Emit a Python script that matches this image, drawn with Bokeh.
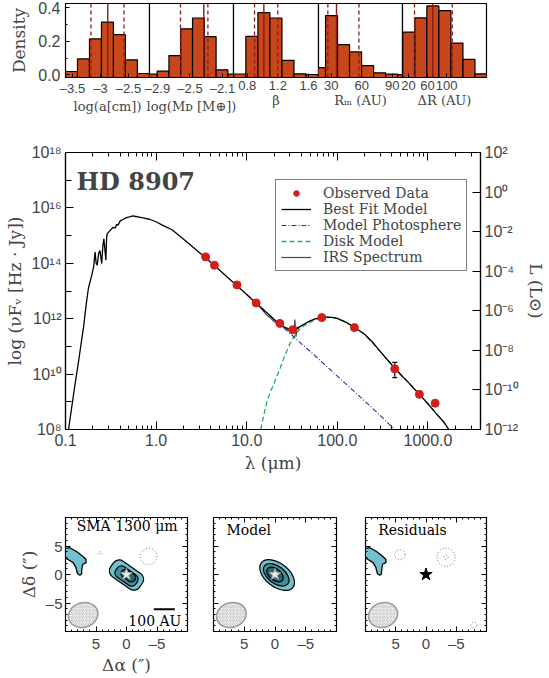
import math
import numpy as np
from bokeh.plotting import figure
from bokeh.models import (Range1d, LogAxis, LinearAxis, FixedTicker, CustomJSTickFormatter,
                          Span, Legend, LegendItem, Whisker, TeeHead, ColumnDataSource,
                          Label, LogScale)
from bokeh.layouts import column, row
from bokeh.embed import file_html
from bokeh.resources import INLINE
from bokeh.core.properties import value

# ---------------- posterior histograms ----------------
a_edges = [-3.625, -3.411, -3.197, -2.983, -2.769, -2.555, -2.341, -2.127]
a_dens = [0.02, 0.095, 0.215, 0.315, 0.24, 0.09, 0.008]
a_lines = [-3.17, -2.87, -2.58]
a_ticks = [-3.5, -3.0, -2.5]
a_xlim = [-3.625, -2.125]

md_edges = [-3.049, -2.904, -2.759, -2.614, -2.469, -2.324, -2.179, -2.034, -1.889]
md_dens = [0.004, 0.022, 0.115, 0.275, 0.34, 0.228, 0.03, 0.004]
md_lines = [-2.617, -2.33, -2.28]
md_ticks = [-2.9, -2.5, -2.1]
md_xlim = [-2.998, -1.965]

b_edges = [0.625, 0.782, 0.939, 1.096, 1.253, 1.41, 1.567, 1.724]
b_dens = [0.005, 0.23, 0.372, 0.34, 0.087, 0.006, 0.002]
b_lines = [0.895, 1.017, 1.199]
b_ticks = [0.8, 1.2, 1.6]
b_xlim = [0.621, 1.73]

rin_edges = [12.6, 24.4, 36.2, 48.0, 59.8, 71.6, 83.4, 95.2, 107.0]
rin_dens = [0.043, 0.354, 0.181, 0.137, 0.055, 0.012, 0.004, 0.001]
rin_lines = [26.7, 35.2, 57.2]
rin_ticks = [30, 60, 90]
rin_xlim = [17.5, 100.0]

dr_edges = [8.0, 33.3, 58.6, 83.9, 109.2, 134.5, 159.8, 185.1]
dr_dens = [0.256, 0.341, 0.412, 0.384, 0.19, 0.092, 0.006]
dr_lines = [32.6, 71.0, 112.0]
dr_ticks = [20, 60, 100]
dr_xlim = [7.4, 184.0]

hist_labels = ["log(a[cm])", "log(Mᴅ [M⊕])", "β", "Rᵢₙ (AU)", "ΔR (AU)"]

# ---------------- SED (wavelength in micron, log10 of nuFnu in Hz Jy) ----------------
model_wav = [0.108, 0.125, 0.14, 0.152, 0.158, 0.169, 0.179, 0.195, 0.205, 0.212, 0.218, 0.224,
             0.232, 0.24, 0.246, 0.251, 0.258, 0.265, 0.272, 0.279, 0.284, 0.288, 0.31, 0.335,
             0.355, 0.365, 0.38, 0.402, 0.43, 0.47, 0.51, 0.553, 0.6, 0.65, 0.74, 0.84, 1.0,
             1.17, 1.5, 2.09, 2.7, 3.52, 4.4, 6.0, 7.8, 10.0, 12.7, 17.0, 20.0, 23.2, 26.0, 29.0,
             32.0, 36.0, 40.0, 45.0, 50.0, 58.0, 67.0, 76.0, 88.0, 100.0, 125.0, 154.0, 200.0,
             250.0, 300.0, 360.0, 430.0, 510.0, 600.0, 700.0, 804.0, 1000.0, 1200.0, 1500.0, 1700.0]
model_log = [8.0, 9.45, 10.5, 11.32, 11.68, 12.5, 13.1, 13.57, 13.9, 14.41, 14.0, 13.93,
             14.35, 14.46, 14.2, 13.99, 14.6, 14.88, 14.5, 14.11, 14.9, 15.06, 15.18, 15.3,
             15.27, 15.4, 15.38, 15.53, 15.58, 15.65, 15.68, 15.71, 15.69, 15.67, 15.63, 15.59, 15.5,
             15.38, 15.21, 14.82, 14.52, 14.2, 13.92, 13.52, 13.19, 12.87, 12.56, 12.19, 11.98, 11.8, 11.7, 11.63,
             11.61, 11.65, 11.74, 11.84, 11.92, 12.0, 12.04, 12.06, 12.05, 12.01, 11.87, 11.69, 11.44,
             11.12, 10.8, 10.5, 10.22, 9.95, 9.72, 9.48, 9.27, 8.93, 8.62, 8.26, 8.0]

phot_wav = [10.0, 15.0, 20.0, 27.8, 40.0, 54.3, 75.0, 100.0, 150.0, 200.0, 280.0, 371.0, 430.0]
phot_log = [12.87, 12.35, 11.97, 11.57, 11.1, 10.72, 10.3, 9.93, 9.4, 9.03, 8.59, 8.2, 8.0]

disk_wav = [14.3, 15.5, 16.9, 18.5, 20.0, 21.8, 23.6, 25.5, 27.8, 30.0, 32.8, 35.5, 38.6, 42.0,
            45.8, 52.0, 60.0, 70.0, 76.0, 88.0, 100.0, 125.0, 154.0, 200.0, 300.0, 430.0, 600.0,
            804.0, 1000.0, 1200.0, 1500.0, 1700.0]
disk_log = [8.0, 8.55, 9.07, 9.4, 9.66, 9.97, 10.25, 10.55, 10.85, 11.1, 11.32, 11.48, 11.62, 11.72,
            11.79, 11.9, 11.98, 12.03, 12.05, 12.04, 12.0, 11.87, 11.69, 11.44, 10.8, 10.22, 9.72,
            9.27, 8.93, 8.62, 8.26, 8.0]

irs_wav = [14.0, 15.5, 17.0, 18.3, 20.0, 21.5, 23.0, 24.5, 26.0, 27.5, 29.0, 30.0, 31.0, 32.0,
           33.0, 34.0, 35.0, 36.0, 37.0, 38.0]
irs_log = [12.42, 12.25, 12.1, 12.03, 11.9, 11.84, 11.78, 11.72, 11.68, 11.62, 11.56, 11.62, 11.5,
           11.66, 11.45, 11.97, 11.35, 11.72, 11.62, 11.7]

obs_wav = [3.52, 4.4, 7.8, 12.7, 23.2, 32.2, 67.4, 154.0, 430.0, 804.0, 1200.0]
obs_log = [14.23, 13.93, 13.22, 12.57, 11.83, 11.60, 12.04, 11.68, 10.19, 9.27, 8.95]
err_wav = [430.0, 804.0, 1200.0]
err_lo_log = [9.87, 9.18, 8.84]
err_hi_log = [10.42, 9.35, 9.03]

# ---------------- SMA maps (arcsec) ----------------
blob_x = [10.6, 10.0, 9.3, 8.18, 7.18, 6.63, 6.63, 7.18, 7.35, 7.35, 7.63, 8.02, 8.3, 8.75, 9.58, 10.0, 10.6]
blob_y = [4.6, 4.58, 4.7, 4.03, 3.2, 2.63, 2.08, 1.8, 0.7, 0.13, -0.13, 0.13, 1.25, 2.08, 2.63, 2.92, 2.9]

sma_cx = [0.0, 0.0, -0.3]
sma_cy = [-0.1, -0.28, -0.2]
sma_w = [5.8, 4.0, 2.6]
sma_h = [3.3, 2.2, 1.5]
sma_ang = [-0.61, -0.61, -0.61]
sma_rad = [7, 5, 5]

mod_cx = [-0.35, -0.2, 0.0]
mod_cy = [-0.1, -0.05, 0.0]
mod_w = [6.5, 4.8, 3.1]
mod_h = [4.1, 3.0, 2.0]
mod_ang = [-0.66, -0.66, -0.66]

level_colors = ["#72C1CD", "#428E99", "#2A616B"]

sma_neg_x = [-3.65, 4.4]
sma_neg_y = [3.2, 3.75]
sma_neg_r = [1.35, 0.25]
res_neg_x = [4.3, -3.3, -3.3, -7.9]
res_neg_y = [3.47, 3.03, 3.03, -8.9]
res_neg_r = [0.85, 1.5, 0.35, 0.5]

beam_x, beam_y, beam_w, beam_h, beam_ang = 7.1, -7.1, 4.9, 4.3, 0.3
bar_x0, bar_x1, bar_y = -4.48, -7.92, -6.08

SERIF = "DejaVu Serif"
SANS = "Liberation Sans"
BAR = "#C8461B"
LINE_RED = "#8B1A1A"

minus_fmt = CustomJSTickFormatter(code="""
const s = Math.abs(tick).toString();
return (tick < 0 ? "\u2013" : "") + s;
""")
blank_fmt = CustomJSTickFormatter(code="return '';")

# ---------------- histogram row ----------------
hist_data = [(a_edges, a_dens, a_lines, a_ticks, a_xlim),
             (md_edges, md_dens, md_lines, md_ticks, md_xlim),
             (b_edges, b_dens, b_lines, b_ticks, b_xlim),
             (rin_edges, rin_dens, rin_lines, rin_ticks, rin_xlim),
             (dr_edges, dr_dens, dr_lines, dr_ticks, dr_xlim)]
frame_w = [84, 84, 85, 84, 84]
y0, y1 = -0.016, 0.4267
hists = []
for i, (edges, dens, lines, ticks, xl) in enumerate(hist_data):
    bl = 65 if i == 0 else 15
    br = 15
    p = figure(width=bl + frame_w[i] + br, height=116, x_range=Range1d(*xl), y_range=Range1d(y0, y1),
               output_backend="svg", toolbar_location=None, min_border_left=bl, min_border_right=br,
               min_border_top=3, min_border_bottom=30, y_axis_location="left" if i == 0 else None)
    p.grid.visible = False
    p.outline_line_color = "black"
    p.outline_line_width = 1.2
    p.background_fill_color = "white"
    p.border_fill_alpha = 0
    if i > 0:
        p.margin = (0, 0, 0, -30)
    p.quad(left=edges[:-1], right=edges[1:], top=dens, bottom=y0, fill_color=BAR,
           line_color="black", line_width=1.2)
    for j, loc in enumerate(lines):
        p.add_layout(Span(location=loc, dimension="height", line_color=LINE_RED,
                          line_width=1.4 if j == 1 else 1.3,
                          line_dash="solid" if j == 1 else "4 3"))
    ax = p.xaxis[0]
    ax.ticker = FixedTicker(ticks=ticks)
    ax.formatter = minus_fmt
    ax.major_tick_in = 4
    ax.major_tick_out = 0
    ax.minor_tick_out = 0
    ax.major_label_standoff = 3
    ax.major_label_text_font = SANS
    ax.major_label_text_font_size = "13px"
    ax.axis_label = hist_labels[i]
    ax.axis_label_text_font = SERIF
    ax.axis_label_text_font_size = "13px"
    ax.axis_label_text_font_style = "normal"
    ax.axis_label_standoff = 0
    if i == 0:
        ya = p.yaxis[0]
        ya.ticker = FixedTicker(ticks=[0.0, 0.2, 0.4], minor_ticks=[0.1, 0.3])
        ya.formatter = CustomJSTickFormatter(code="return tick.toFixed(1);")
        ya.major_tick_in = 4
        ya.major_tick_out = 0
        ya.minor_tick_in = 2
        ya.minor_tick_out = 0
        ya.major_label_text_font = SANS
        ya.major_label_text_font_size = "16px"
        ya.major_label_standoff = 5
        ya.axis_label = "Density"
        ya.axis_label_text_font = SERIF
        ya.axis_label_text_font_size = "17px"
        ya.axis_label_text_font_style = "normal"
        ya.axis_label_standoff = 6
    hists.append(p)

# ---------------- SED ----------------
sed = figure(width=548, height=359, x_axis_type="log", y_axis_type="log",
             x_range=Range1d(0.1, 3800), y_range=Range1d(1e8, 1e18),
             output_backend="svg", toolbar_location=None,
             min_border_left=65, min_border_right=62, min_border_top=36, min_border_bottom=42)
sed.grid.visible = False
sed.outline_line_color = "black"
sed.outline_line_width = 1.2
sed.border_fill_alpha = 0
sed.extra_y_ranges = {"lum": Range1d(1e-12, 1e2)}
sed.extra_y_scales = {"lum": LogScale()}

tf = lambda a: [10 ** v for v in a]
r_disk = sed.line(disk_wav, tf(disk_log), line_color="#1EAF55", line_width=1.3, line_dash="5 3")
r_phot = sed.line(phot_wav, tf(phot_log), line_color="#2B2BA0", line_width=1.1, line_dash="5 2 1 2")
r_irs = sed.line(irs_wav, tf(irs_log), line_color="#4a4a4a", line_width=1.2)
r_model = sed.line(model_wav, tf(model_log), line_color="black", line_width=1.3)
err_src = ColumnDataSource(dict(x=err_wav, lo=tf(err_lo_log), hi=tf(err_hi_log)))
sed.add_layout(Whisker(source=err_src, base="x", lower="lo", upper="hi", dimension="height",
                       line_color="black", line_width=1.2,
                       lower_head=TeeHead(size=5, line_color="black", line_width=1.2),
                       upper_head=TeeHead(size=5, line_color="black", line_width=1.2)))
r_obs = sed.scatter(obs_wav, tf(obs_log), size=8, fill_color="#D21E1E", line_color="#D21E1E")

xmin = [k * 10.0 ** e for e in range(-1, 4) for k in range(2, 10)]
xax = sed.below[0]
xax.ticker = FixedTicker(ticks=[0.1, 1, 10, 100, 1000], minor_ticks=xmin)
xax.formatter = CustomJSTickFormatter(code="return tick.toFixed(1);")
xax.axis_label = "λ (μm)"
top = LogAxis(ticker=FixedTicker(ticks=[0.1, 1, 10, 100, 1000], minor_ticks=xmin),
              formatter=blank_fmt)
top.major_label_standoff = 0
sed.add_layout(top, "above")

sup_fmt = CustomJSTickFormatter(code="""
const e = Math.round(Math.log10(tick));
const m = {"-":"\u207b","0":"\u2070","1":"\u00b9","2":"\u00b2","3":"\u00b3","4":"\u2074",
           "5":"\u2075","6":"\u2076","7":"\u2077","8":"\u2078","9":"\u2079"};
let s = "";
for (const c of String(e)) s += m[c];
return "10" + s;
""")
yax = sed.left[0]
yax.ticker = FixedTicker(ticks=[10.0 ** e for e in range(8, 19, 2)],
                         minor_ticks=[10.0 ** e for e in range(9, 18, 2)])
yax.formatter = sup_fmt
yax.axis_label = "log (νFᵥ [Hz · Jy])"
rax = LogAxis(y_range_name="lum", ticker=FixedTicker(ticks=[10.0 ** e for e in range(-12, 3, 2)]),
              formatter=sup_fmt, axis_label="L (L⊙)")
sed.add_layout(rax, "right")
for ax in [xax, top, yax, rax]:
    ax.major_tick_in = 8
    ax.major_tick_out = 0
    ax.minor_tick_in = 4
    ax.minor_tick_out = 0
    ax.axis_line_width = 1.2
    ax.axis_label_text_font = SERIF
    ax.axis_label_text_font_style = "normal"
    ax.axis_label_text_font_size = "17px"
for ax in [xax, yax, rax]:
    ax.major_label_text_font = SANS
    ax.major_label_text_font_size = "16px"
    ax.major_label_standoff = 4
    ax.axis_label_standoff = 4
yax.minor_tick_in = 6

sed.add_layout(Label(x=0.132, y=10 ** 16.95, text="HD 8907", text_font=SERIF, text_font_style="bold",
                     text_font_size="24px", text_baseline="middle"))
legend = Legend(items=[LegendItem(label="Observed Data", renderers=[r_obs]),
                       LegendItem(label="Best Fit Model", renderers=[r_model]),
                       LegendItem(label="Model Photosphere", renderers=[r_phot]),
                       LegendItem(label="Disk Model", renderers=[r_disk]),
                       LegendItem(label="IRS Spectrum", renderers=[r_irs])],
                location=(210, 158), label_text_font=SERIF, label_text_font_size="14px",
                glyph_width=30, glyph_height=14, label_height=14, spacing=0, padding=5, margin=0,
                label_standoff=12, border_line_color="black", border_line_width=1.2,
                background_fill_alpha=1.0)
sed.add_layout(legend)

# ---------------- maps ----------------
map_specs = [(65, 13, 122, "SMA 1300 μm"), (13, 14, 123, "Model"), (15, 10, 121, "Residuals")]
maps = []
for i, (bl, br, fw, title) in enumerate(map_specs):
    p = figure(width=bl + fw + br, height=202, x_range=Range1d(10, -10), y_range=Range1d(-10, 10),
               output_backend="svg", toolbar_location=None, min_border_left=bl, min_border_right=br,
               min_border_top=42, min_border_bottom=38)
    p.grid.visible = False
    p.outline_line_color = "black"
    p.outline_line_width = 1.2
    p.border_fill_alpha = 0
    tick = FixedTicker(ticks=[-5, 0, 5], minor_ticks=list(range(-10, 11)))
    p.add_layout(LinearAxis(), "above")
    p.add_layout(LinearAxis(), "right")
    for ax in p.axis:
        ax.ticker = tick
        ax.formatter = minus_fmt
        ax.major_tick_in = 5
        ax.major_tick_out = 0
        ax.minor_tick_in = 2
        ax.minor_tick_out = 0
        ax.major_label_text_font = SANS
        ax.major_label_text_font_size = "15px"
        ax.major_label_standoff = 3
        ax.axis_label_text_font = SERIF
        ax.axis_label_text_font_style = "normal"
        ax.axis_label_text_font_size = "17px"
        ax.axis_label_standoff = 0
    for ax in p.above + p.right:
        ax.formatter = blank_fmt
        ax.major_label_standoff = 0
    if i == 0:
        p.below[0].axis_label = "Δα (″)"
        p.left[0].axis_label = "Δδ (″)"
        p.left[0].axis_label_standoff = 4
    else:
        p.left[0].formatter = blank_fmt
        p.left[0].major_label_standoff = 0
    # beam
    p.ellipse(x=[beam_x], y=[beam_y], width=[beam_w], height=[beam_h], angle=[beam_ang],
              fill_color="white", line_color="#9a9a9a", line_width=1.5,
              hatch_pattern="/", hatch_color="#8c8c8c", hatch_scale=3.5, hatch_weight=0.6)
    if i in (0, 2):
        p.patch(blob_x, blob_y, fill_color=level_colors[0], line_color="black", line_width=1.3)
    if i == 0:
        for k in range(3):
            p.rect(x=[sma_cx[k]], y=[sma_cy[k]], width=[sma_w[k]], height=[sma_h[k]],
                   angle=[sma_ang[k]], border_radius=sma_rad[k],
                   fill_color=level_colors[k], line_color="black", line_width=1.2)
        p.circle(x=sma_neg_x, y=sma_neg_y, radius=sma_neg_r, fill_color=None,
                 line_color="#4E8088", line_dash="1 2", line_width=1)
        p.segment(x0=[bar_x0], y0=[bar_y], x1=[bar_x1], y1=[bar_y], line_color="black", line_width=2)
        p.text(x=[-4.65], y=[-8.2], text=["100 AU"], text_font=value(SERIF), text_font_size="14px",
               text_align="center", text_baseline="middle")
        p.text(x=[-0.1], y=[8.47], text=[title], text_font=value(SERIF), text_font_size="14px",
               text_align="center", text_baseline="middle")
    else:
        p.text(x=[7.9], y=[7.8], text=[title], text_font=value(SERIF), text_font_size="14px",
               text_align="left", text_baseline="middle")
    if i == 1:
        p.ellipse(x=mod_cx, y=mod_cy, width=mod_w, height=mod_h, angle=mod_ang,
                  fill_color=level_colors, line_color="black", line_width=1.2)
    if i == 2:
        p.circle(x=res_neg_x, y=res_neg_y, radius=res_neg_r, fill_color=None,
                 line_color="#4E8088", line_dash="1 2", line_width=1)
        p.scatter(x=[0], y=[0], marker="star", size=13, fill_color="black", line_color="black")
    else:
        p.scatter(x=[0], y=[0], marker="star", size=12, fill_color="#eeeeee", line_color="#aaaaaa")
    maps.append(p)

layout = column(row(*hists), sed, row(*maps))
open("out.html", "w").write(file_html(layout, INLINE))
